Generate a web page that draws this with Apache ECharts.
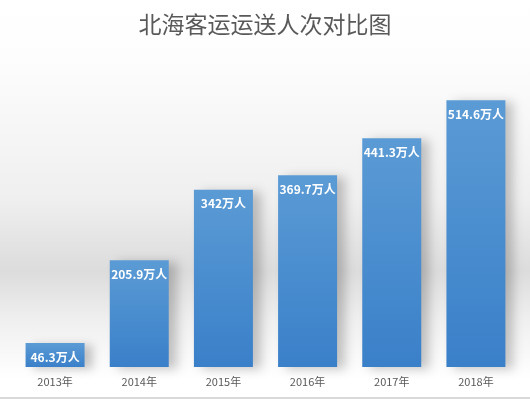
<!DOCTYPE html>
<html>
<head>
<meta charset="utf-8">
<script src="https://cdn.jsdelivr.net/npm/echarts@6/dist/echarts.min.js"></script>
<style>
  html, body { margin: 0; padding: 0; background: #fff; }
  #chart { width: 530px; height: 399px; }
</style>
</head>
<body>
<div id="chart"></div>
<script>
const years = ['2013年', '2014年', '2015年', '2016年', '2017年', '2018年']
const passengers = [46.3, 205.9, 342, 369.7, 441.3, 514.6]
const unit = '万人'

const chart = echarts.init(document.getElementById('chart'))
chart.setOption({
  animation: false,
  backgroundColor: {
    type: 'linear', x: 0, y: 0, x2: 0, y2: 1,
    colorStops: [
      { offset: 0, color: '#ffffff' },
      { offset: 0.15, color: '#fdfdfd' },
      { offset: 0.5, color: '#efefef' },
      { offset: 0.68, color: '#dcdcdc' },
      { offset: 0.8, color: '#efefef' },
      { offset: 0.95, color: '#ffffff' },
      { offset: 1, color: '#ffffff' },
    ],
  },
  title: {
    text: '北海客运运送人次对比图',
    left: 'center',
    top: 8,
    textStyle: {
      fontFamily: 'Noto Sans CJK SC',
      fontSize: 23,
      fontWeight: 'normal',
      color: '#595959',
    },
  },
  grid: { left: 13, right: 12, top: 56, bottom: 32 },
  xAxis: {
    type: 'category',
    data: years,
    axisLine: { show: false },
    axisTick: { show: false },
    axisLabel: {
      color: '#595959',
      fontSize: 11,
      margin: 9,
      fontFamily: 'Noto Sans CJK SC',
    },
  },
  yAxis: {
    type: 'value',
    min: 0,
    max: 600,
    show: false,
  },
  series: [
    {
      type: 'bar',
      data: passengers,
      barWidth: 59,
      itemStyle: {
        color: {
          type: 'linear', x: 0, y: 0, x2: 0, y2: 1,
          colorStops: [
            { offset: 0, color: '#5b9bd5' },
            { offset: 1, color: '#3a80c9' },
          ],
        },
        shadowColor: 'rgba(0,0,0,0.22)',
        shadowBlur: 10,
        shadowOffsetX: 8,
        shadowOffsetY: 2,
      },
      label: {
        show: true,
        position: 'insideTop',
        distance: 8,
        formatter: p => p.value + unit,
        color: '#ffffff',
        fontSize: 12,
        fontWeight: 'bold',
        fontFamily: 'Noto Sans CJK SC',
      },
    },
  ],
  graphic: [
    {
      type: 'rect',
      shape: { x: 0, y: 397, width: 530, height: 2 },
      style: { fill: '#d9d9d9' },
    },
  ],
})
</script>
</body>
</html>
